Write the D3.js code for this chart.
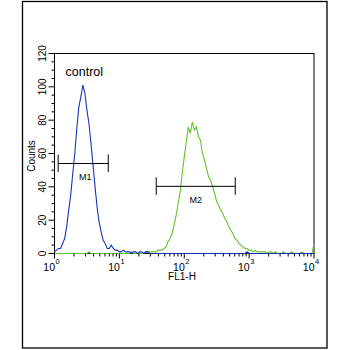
<!DOCTYPE html>
<html>
<head>
<meta charset="utf-8">
<script src="https://cdn.jsdelivr.net/npm/d3@7/dist/d3.min.js"></script>
<style>
  html, body { margin: 0; padding: 0; background: #fff; }
  svg { display: block; }
  text { font-family: "Liberation Sans", Arial, sans-serif; fill: #000; }
</style>
</head>
<body>
<svg id="chart" width="350" height="350"></svg>
<script>
// FL1-H histogram: 129 log-spaced channels, 32 per decade, from 10^0 to 10^4
const channelsPerDecade = 32;
const channels = d3.range(129);

// Control sample (blue)
const controlCounts = [
  1, 2, 3, 3, 6, 9, 16, 26, 35, 48,
  60, 75, 88, 94, 101, 96, 86, 78, 66, 53,
  40, 28, 19, 13, 8, 6, 3, 3, 5, 3,
  2, 2, 1, 1, 2, 1, 1, 1, 0, 1,
  1, 0, 1, 1, 0, 1, 1, 0, 0, 0,
  0, 0, 0, 0, 0, 0, 0, 0, 0, 0,
  0, 0, 0, 0, 0, 0, 0, 0, 0, 0,
  0, 0, 0, 0, 0, 0, 0, 0, 0, 0,
  0, 0, 0, 0, 0, 0, 0, 0, 0, 0,
  0, 0, 0, 0, 0, 1, 0, 0, 0, 0,
  0, 0, 0, 0, 0, 0, 0, 0, 0, 0,
  0, 0, 0, 0, 0, 0, 0, 0, 0, 0,
  0, 0, 0, 0, 0, 0, 0, 0, 0
];

// Stained sample (green)
const sampleCounts = [
  0, 0, 0, 0, 0, 0, 0, 0, 0, 0,
  0, 0, 0, 0, 0, 0, 0, 1, 0, 0,
  0, 0, 0, 0, 0, 0, 0, 0, 0, 0,
  0, 0, 0, 0, 0, 0, 0, 0, 1, 0,
  0, 0, 0, 0, 0, 1, 1, 1, 1, 1,
  1, 2, 2, 2, 3, 4, 7, 9, 12, 17,
  23, 30, 37, 48, 58, 67, 76, 72, 79, 74,
  76, 70, 68, 60, 56, 51, 46, 44, 40, 36,
  31, 29, 26, 24, 21, 19, 16, 14, 12, 9,
  8, 6, 5, 4, 3, 3, 2, 2, 1, 2,
  1, 1, 1, 1, 1, 0, 1, 1, 0, 1,
  0, 0, 0, 1, 0, 0, 0, 1, 0, 0,
  0, 0, 1, 0, 0, 0, 0, 0, 6
];

// Marker gates: [low, high] in FL1-H units, drawn at a count level
const markerNames = ["M1", "M2"];
const markerRanges = [[1.14, 6.74], [37, 611]];
const markerLevels = [54, 40.3];

const xTickExponents = [0, 1, 2, 3, 4];
const yTickValues = [0, 20, 40, 60, 80, 100, 120];

const svg = d3.select("#chart");

// outer frame
svg.append("rect")
  .attr("x", 22.5).attr("y", 1.5)
  .attr("width", 304.5).attr("height", 346.5)
  .attr("fill", "none").attr("stroke", "#000").attr("stroke-width", 1.3);

const plot = { left: 54.5, right: 314, top: 53.5, bottom: 253.5 };

const x = d3.scaleLog().domain([1, 10000]).range([plot.left, plot.right]);
const y = d3.scaleLinear().domain([0, 120]).range([plot.bottom, plot.top]);

const fl1 = ch => Math.pow(10, ch / channelsPerDecade);

// plot box
svg.append("rect")
  .attr("x", plot.left).attr("y", plot.top)
  .attr("width", plot.right - plot.left).attr("height", plot.bottom - plot.top)
  .attr("fill", "none").attr("stroke", "#000").attr("stroke-width", 1);

// histogram traces
const line = d3.line()
  .x(ch => x(fl1(ch)))
  .curve(d3.curveLinear);

const traces = [
  { counts: sampleCounts, color: "#62c42e" },
  { counts: controlCounts, color: "#1535c0" }
];
traces.forEach(t => {
  svg.append("path")
    .datum(channels)
    .attr("fill", "none")
    .attr("stroke", t.color)
    .attr("stroke-width", 1.1)
    .attr("d", line.y(ch => y(t.counts[ch])));
});

// y axis
const yAxis = svg.append("g").attr("transform", `translate(${plot.left},0)`);
const yMinor = d3.range(0, 121, 5).filter(v => v % 20 !== 0);
yAxis.selectAll("line.minor").data(yMinor).join("line")
  .attr("x1", -3).attr("x2", 0)
  .attr("y1", d => y(d)).attr("y2", d => y(d))
  .attr("stroke", "#000");
yAxis.selectAll("line.major").data(yTickValues).join("line")
  .attr("class", "major")
  .attr("x1", -6).attr("x2", 0)
  .attr("y1", d => y(d)).attr("y2", d => y(d))
  .attr("stroke", "#000");
yAxis.selectAll("text").data(yTickValues).join("text")
  .attr("transform", d => `translate(-9,${y(d)}) rotate(-90)`)
  .attr("text-anchor", "middle")
  .attr("font-size", 10)
  .text(d => d);

svg.append("text")
  .attr("transform", `translate(35,156) rotate(-90)`)
  .attr("text-anchor", "middle")
  .attr("font-size", 10)
  .text("Counts");

// x axis
const xAxis = svg.append("g").attr("transform", `translate(0,${plot.bottom})`);
const xMinor = [];
xTickExponents.slice(0, -1).forEach(e => {
  for (let k = 2; k <= 9; k++) xMinor.push(k * Math.pow(10, e));
});
xAxis.selectAll("line.minor").data(xMinor).join("line")
  .attr("x1", d => x(d)).attr("x2", d => x(d))
  .attr("y1", 0).attr("y2", 3)
  .attr("stroke", "#000");
xAxis.selectAll("line.major").data(xTickExponents).join("line")
  .attr("class", "major")
  .attr("x1", d => x(Math.pow(10, d))).attr("x2", d => x(Math.pow(10, d)))
  .attr("y1", 0).attr("y2", 5)
  .attr("stroke", "#000");
const xLab = xAxis.selectAll("g.lab").data(xTickExponents).join("g")
  .attr("transform", d => `translate(${x(Math.pow(10, d))},0)`);
xLab.append("text")
  .attr("x", 0.5).attr("y", 17)
  .attr("text-anchor", "end")
  .attr("font-size", 10.5)
  .text("10");
xLab.append("text")
  .attr("x", 1).attr("y", 10)
  .attr("text-anchor", "start")
  .attr("font-size", 7.5)
  .text(d => d);

svg.append("text")
  .attr("x", 182).attr("y", 280)
  .attr("text-anchor", "middle")
  .attr("font-size", 10)
  .text("FL1-H");

// sample label
svg.append("text")
  .attr("x", 65.5).attr("y", 75.5)
  .attr("font-size", 12.5)
  .text("control");

// marker gates
markerNames.forEach((name, i) => {
  const [lo, hi] = markerRanges[i];
  const yy = y(markerLevels[i]);
  const g = svg.append("g").attr("stroke", "#000").attr("stroke-width", 1);
  g.append("line").attr("x1", x(lo)).attr("x2", x(hi)).attr("y1", yy).attr("y2", yy);
  g.append("line").attr("x1", x(lo)).attr("x2", x(lo)).attr("y1", yy - 9).attr("y2", yy + 8.5);
  g.append("line").attr("x1", x(hi)).attr("x2", x(hi)).attr("y1", yy - 9).attr("y2", yy + 8.5);
  svg.append("text")
    .attr("x", (x(lo) + x(hi)) / 2 - (i === 0 ? -2 : 0))
    .attr("y", yy + 16.5)
    .attr("text-anchor", "middle")
    .attr("font-size", 9)
    .text(name);
});
</script>
</body>
</html>
